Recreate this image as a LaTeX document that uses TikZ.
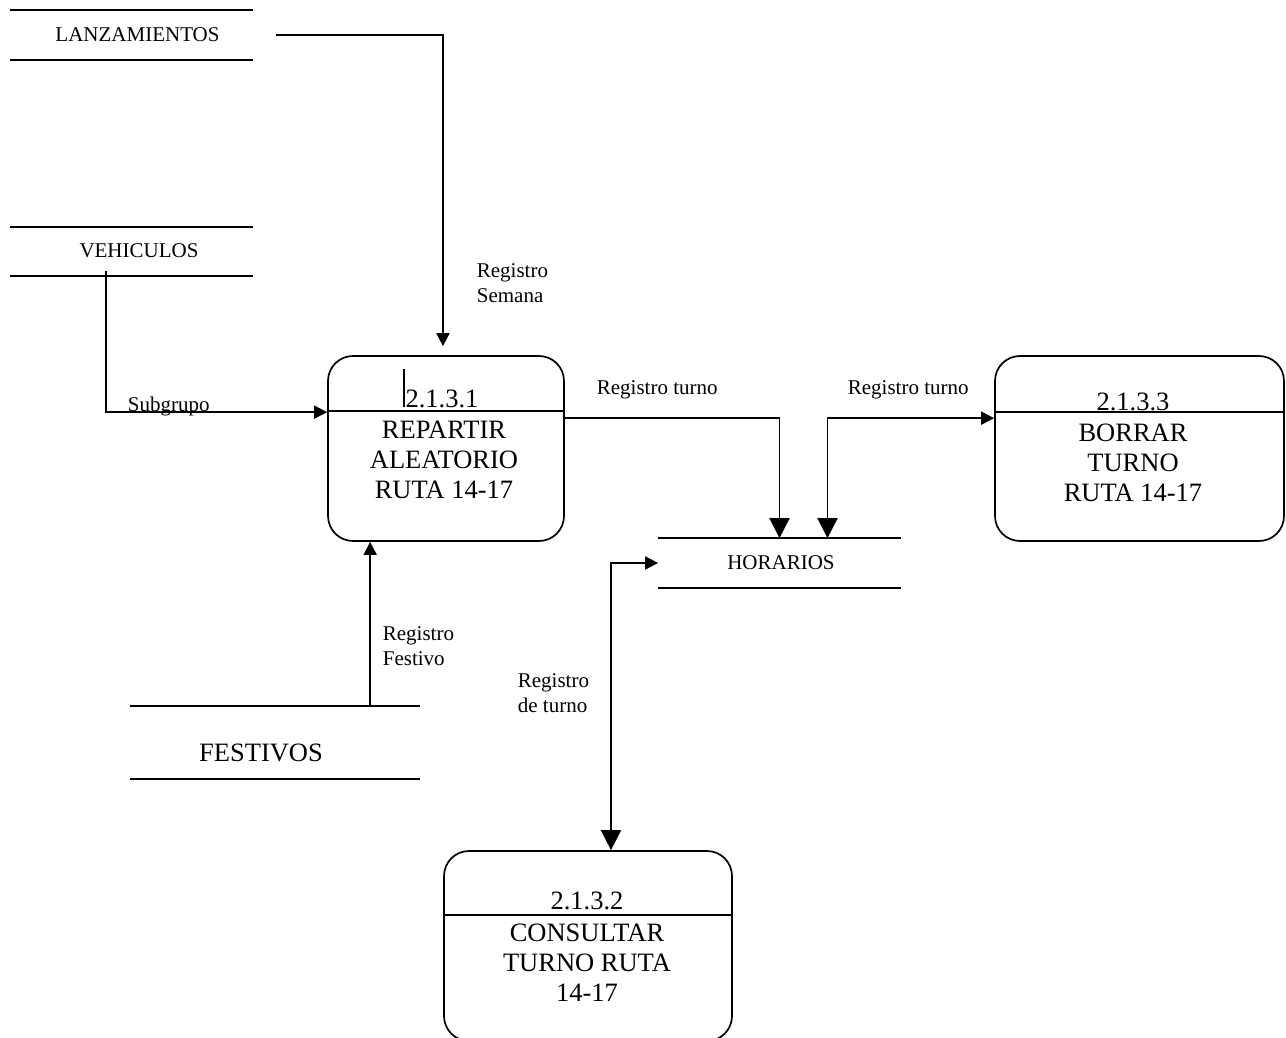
\documentclass[tikz,border=0pt]{standalone}
\usepackage{fontspec}
\setmainfont{Liberation Serif}
\usetikzlibrary{arrows.meta,calc}
\begin{document}
\begin{tikzpicture}[x=1pt,y=-1pt,
  line width=1.7pt,
  smalltxt/.style={font=\fontsize{21}{24.5}\selectfont, inner sep=0pt},
  bigtxt/.style={font=\fontsize{26.5}{30}\selectfont, inner sep=0pt},
  proc/.style={draw, rounded corners=25pt, inner sep=0pt},
  store/.style={inner sep=0pt},
  arrS/.style={-{Triangle[length=13pt,width=13pt]}},
  arrL/.style={-{Triangle[length=20pt,width=20pt]}},
]
\useasboundingbox (0,0) rectangle (1286,1038);

% ---------------- data stores ----------------
\node[store, minimum width=241pt, minimum height=48pt] (lanz) at (131.5,35) {};
\node[smalltxt, anchor=base] (lanzT) at (137.5,42) {LANZAMIENTOS};
\draw (lanz.north west) -- (lanz.north east) (lanz.south west) -- (lanz.south east);

\node[store, minimum width=241pt, minimum height=47pt] (veh) at (131.5,251.5) {};
\node[smalltxt, anchor=base] (vehT) at (139,257) {VEHICULOS};
\draw (veh.north west) -- (veh.north east) (veh.south west) -- (veh.south east);

\node[store, minimum width=241pt, minimum height=48pt] (hor) at (779.5,563) {};
\node[smalltxt, anchor=base] (horT) at (781,569) {HORARIOS};
\draw (hor.north west) -- (hor.north east) (hor.south west) -- (hor.south east);

\node[store, minimum width=288pt, minimum height=71pt] (fest) at (275,742.5) {};
\node[bigtxt, anchor=base] (festT) at (261,761) {FESTIVOS};
\draw (fest.north west) -- (fest.north east) (fest.south west) -- (fest.south east);

% ---------------- processes ----------------
\node[proc, minimum width=236pt, minimum height=185pt] (p1) at (446,448.5) {};
\draw ($(p1.north west)+(0,56)$) -- ($(p1.north east)+(0,56)$);
\node[bigtxt, anchor=base] (p1id) at (442,407) {2.1.3.1};
\draw[line width=1.2pt] (404,369) -- (404,407);
\node[bigtxt, anchor=base, align=center] (p1t) at (444,498) {REPARTIR\\ALEATORIO\\RUTA 14-17};

\node[proc, minimum width=289pt, minimum height=185pt] (p3) at (1139.5,448.5) {};
\draw ($(p3.north west)+(0,57)$) -- ($(p3.north east)+(0,57)$);
\node[bigtxt, anchor=base] (p3id) at (1133,410) {2.1.3.3};
\node[bigtxt, anchor=base, align=center] (p3t) at (1133,501) {BORRAR\\TURNO\\RUTA 14-17};

\node[proc, minimum width=288pt, minimum height=190pt] (p2) at (588,946) {};
\draw ($(p2.north west)+(0,65)$) -- ($(p2.north east)+(0,65)$);
\node[bigtxt, anchor=base] (p2id) at (587,909) {2.1.3.2};
\node[bigtxt, anchor=base, align=center] (p2t) at (587,1001) {CONSULTAR\\TURNO RUTA\\14-17};

% ---------------- flows ----------------
\coordinate (lanzOut) at ($(lanz.east)+(23,0)$);
\draw[arrS] (lanzOut) -| ($(p1.north)+(-3,-9)$);

\coordinate (vehOut) at ($(veh.south west)+(96,-5)$);
\coordinate (p1in) at ($(p1.north west)+(0,57)$);
\draw[arrS] (vehOut) |- (p1in);

\coordinate (festOut) at ($(fest.north west)+(240,0)$);
\draw[arrS] (festOut) -- (festOut |- p1.south);

\coordinate (p1out) at ($(p1.north east)+(0,63)$);
\draw[arrL] (p1out) -| (hor.north);

\coordinate (horB) at ($(hor.north)+(48,0)$);
\draw[{Triangle[length=20pt,width=20pt]}-{Triangle[length=13pt,width=13pt]}] (horB) |- (p3.west |- p1out);

\coordinate (p2top) at ($(p2.north)+(23,0)$);
\draw[{Triangle[length=13pt,width=13pt]}-{Triangle[length=20pt,width=20pt]}] (hor.west) -| (p2top);

% ---------------- flow labels ----------------
\node[smalltxt, anchor=base west, align=left] (lSem) at (476,302) {Registro\\Semana};
\node[smalltxt, anchor=base west] (lSub) at (127,411) {Subgrupo};
\node[smalltxt, anchor=base west] (lT1) at (596,394) {Registro turno};
\node[smalltxt, anchor=base west] (lT2) at (847,394) {Registro turno};
\node[smalltxt, anchor=base west, align=left] (lFes) at (382,665) {Registro\\Festivo};
\node[smalltxt, anchor=base west, align=left] (lDT) at (517,712) {Registro\\de turno};
\end{tikzpicture}
\end{document}
